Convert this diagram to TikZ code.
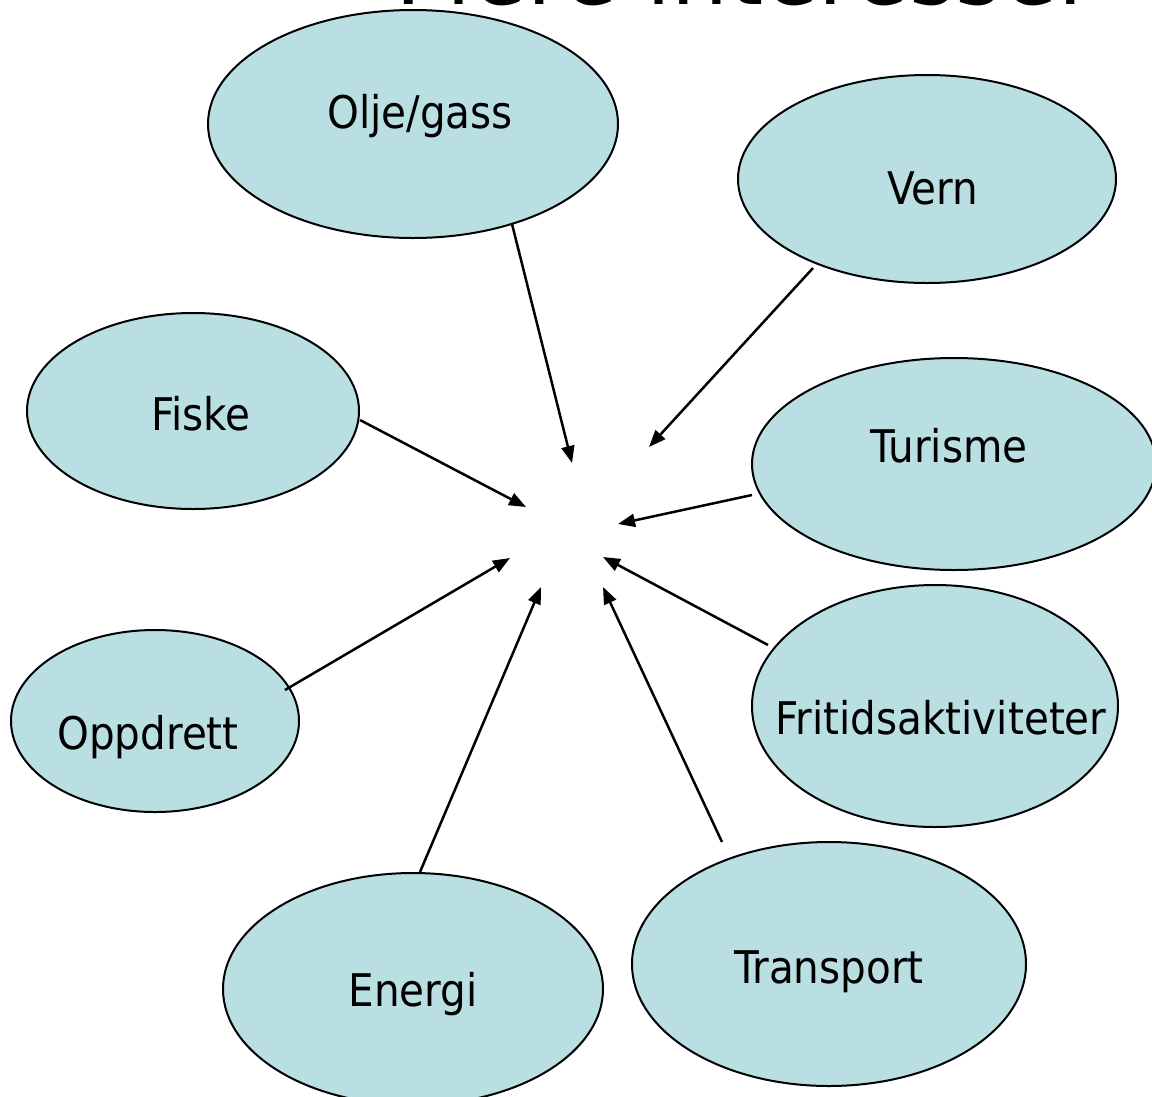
\documentclass[tikz,border=0pt]{standalone}
\usepackage{fontspec}
\setmainfont{DejaVu Sans Condensed}
\usetikzlibrary{arrows.meta,shapes.geometric}
\definecolor{bubble}{RGB}{185,223,227}
\tikzset{
  bub/.style={ellipse,draw=black,fill=bubble,line width=2pt,inner sep=0pt},
  lbl/.style={anchor=base,inner sep=0pt,font=\fontsize{45}{54}\selectfont},
  arr/.style={line width=2.5pt,-{Triangle[length=17pt,width=13pt]}}
}
\begin{document}
\begin{tikzpicture}[x=1pt,y=-1pt]
\useasboundingbox (0,0) rectangle (1152,1096);
% title (cut off at top)
\node[anchor=base,inner sep=0pt,font=\fontsize{100}{110}\selectfont] (title) at (745,4) {Flere interesser};
% bubbles
\node[bub,minimum width=410pt,minimum height=228pt] (olje) at (413,124) {};
\node[bub,minimum width=378pt,minimum height=208pt] (vern) at (927,179) {};
\node[bub,minimum width=332pt,minimum height=196pt] (fiske) at (193,411) {};
\node[bub,minimum width=404pt,minimum height=212pt] (turisme) at (954,464) {};
\node[bub,minimum width=366pt,minimum height=242pt] (fritid) at (935,706) {};
\node[bub,minimum width=288pt,minimum height=182pt] (oppdrett) at (155,721) {};
\node[bub,minimum width=380pt,minimum height=232pt] (energi) at (413,989) {};
\node[bub,minimum width=394pt,minimum height=244pt] (transport) at (829,964) {};
% labels
\node[lbl] (tolje) at (420,128) {Olje/gass};
\node[lbl] (tvern) at (933,204) {Vern};
\node[lbl] (tfiske) at (201,430) {Fiske};
\node[lbl] (tturisme) at (949,462) {Turisme};
\node[lbl] (tfritid) at (941,734) {Fritidsaktiviteter};
\node[lbl] (toppdrett) at (148,749) {Oppdrett};
\node[lbl] (tenergi) at (413,1006) {Energi};
\node[lbl] (ttransport) at (829,983) {Transport};
% connector endpoints
\coordinate (s1) at (512,224);  \coordinate (e1) at (572,463);
\coordinate (s2) at (813,268);  \coordinate (e2) at (649,447);
\coordinate (s3) at (360,420);  \coordinate (e3) at (526,507);
\coordinate (s4) at (752,495);  \coordinate (e4) at (618,524);
\coordinate (s5) at (768,645);  \coordinate (e5) at (603,557);
\coordinate (s6) at (285,690);  \coordinate (e6) at (510,558);
\coordinate (s7) at (420,872);  \coordinate (e7) at (541,587);
\coordinate (s8) at (722,842);  \coordinate (e8) at (603,587);
\draw[arr] (s1) -- (e1);
\draw[arr] (s2) -- (e2);
\draw[arr] (s3) -- (e3);
\draw[arr] (s4) -- (e4);
\draw[arr] (s5) -- (e5);
\draw[arr] (s6) -- (e6);
\draw[arr] (s7) -- (e7);
\draw[arr] (s8) -- (e8);
\end{tikzpicture}
\end{document}
